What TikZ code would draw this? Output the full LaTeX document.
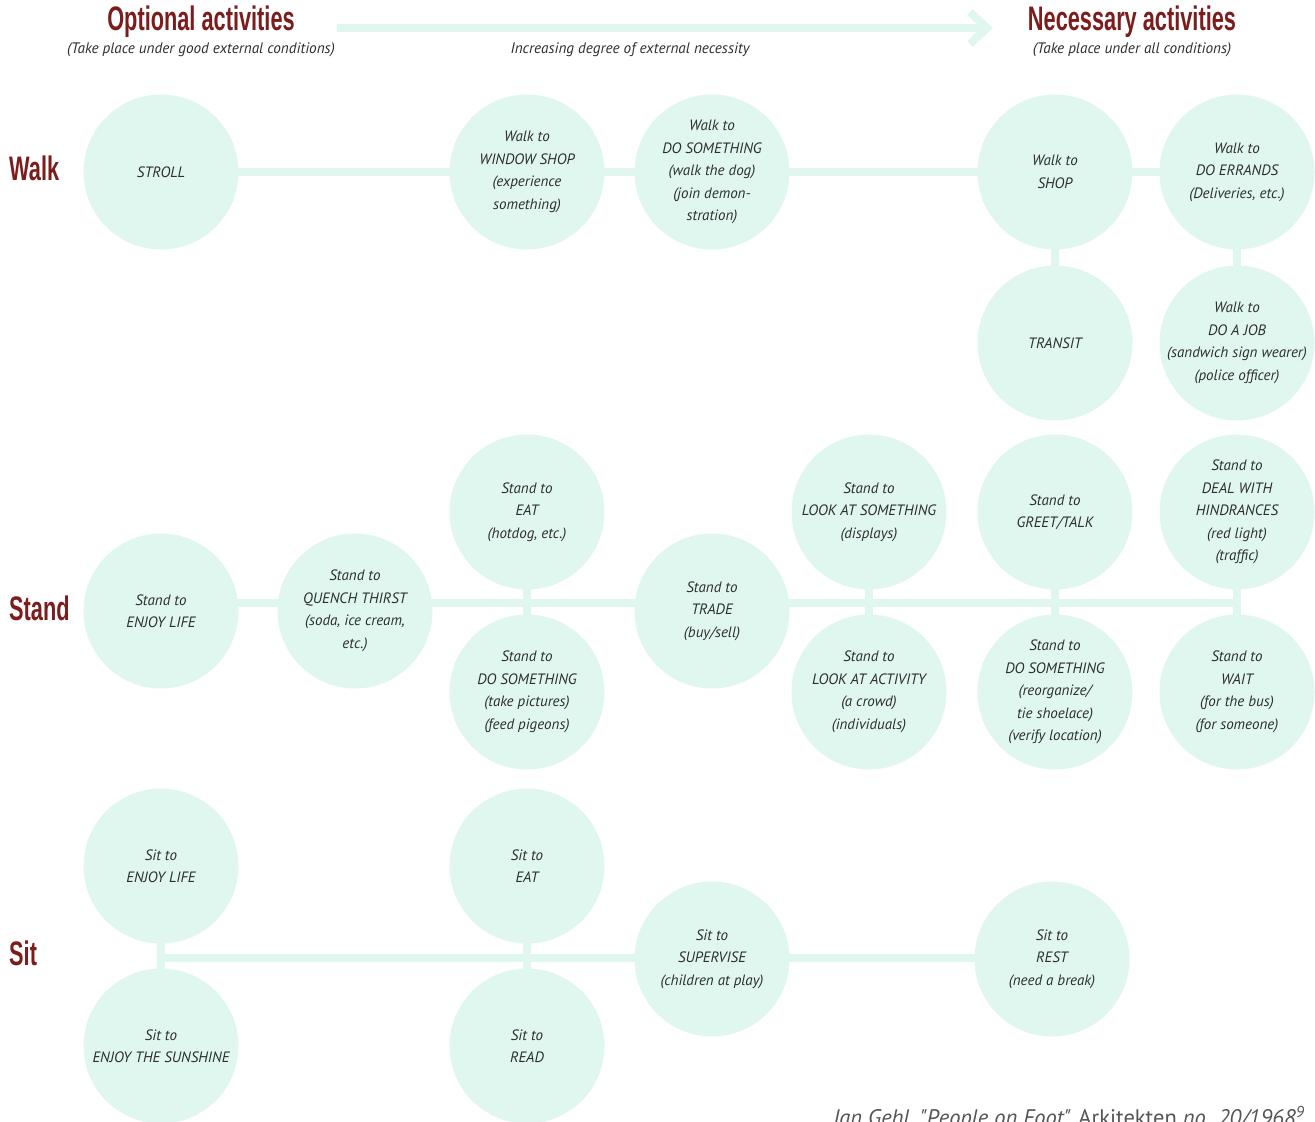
\documentclass[tikz,border=0pt]{standalone}
\usepackage{fontspec}
\setmainfont{PT Sans}
\newfontfamily\headfont[FakeStretch=0.64]{Liberation Sans Bold}
\newfontfamily\bodyfont{PT Sans}
\usetikzlibrary{backgrounds}
\definecolor{mint}{HTML}{E0F7EF}
\definecolor{titlered}{HTML}{7B1D1D}
\definecolor{txtgray}{HTML}{2E2E2E}
\definecolor{citegray}{HTML}{555555}
\tikzset{
  act/.style={circle, fill=mint, minimum size=155pt, inner sep=-40pt, align=center,
    text=txtgray, font=\bodyfont\itshape\fontsize{15}{22.5}\selectfont},
  link/.style={draw=mint, line width=8pt},
  rowlabel/.style={anchor=west, text=titlered, font=\headfont\fontsize{34}{34}\selectfont, inner sep=0},
  headtitle/.style={text=titlered, font=\headfont\fontsize{34}{34}\selectfont, inner sep=0},
  headsub/.style={text=txtgray, font=\bodyfont\itshape\fontsize{15.2}{17}\selectfont, inner sep=0}
}
\begin{document}
\begin{tikzpicture}[x=1pt,y=-1pt]
\useasboundingbox (0,0) rectangle (1315,1122);

% header
\node[headtitle] (opt) at (201,22) {Optional activities};
\node[headsub] (optsub) at (201,50) {(Take place under good external conditions)};
\node[headtitle] (nec) at (1132,22) {Necessary activities};
\node[headsub] (necsub) at (1132,50) {(Take place under all conditions)};
\node[headsub] (incr) at (630,50) {Increasing degree of external necessity};
\coordinate (arrS) at (337,28);
\coordinate (arrE) at (986,28);
\draw[link] (arrS) -- (arrE);
\draw[link, line join=miter] ([shift={(-16,-16)}]arrE) -- ([shift={(1,0)}]arrE) -- ([shift={(-16,16)}]arrE);

% row labels
\node[rowlabel] (lwalk) at (9,168) {Walk};
\node[rowlabel] (lstand) at (9,608) {Stand};
\node[rowlabel] (lsit) at (9,953) {Sit};

% Walk
\node[act] (stroll) at (161,172) {STROLL};
\node[act] (window) at (527,172) {Walk to\\WINDOW SHOP\\(experience\\something)};
\node[act] (wdo) at (712,172) {Walk to\\DO SOMETHING\\(walk the dog)\\(join demon-\\stration)};
\node[act] (shop) at (1055,172) {Walk to\\SHOP};
\node[act] (errands) at (1237,172) {Walk to\\DO ERRANDS\\(Deliveries, etc.)};
\node[act] (transit) at (1055,343) {TRANSIT};
\node[act] (job) at (1237,343) {Walk to\\DO A JOB\\(sandwich sign wearer)\\(police officer)};

% Stand
\node[act] (senjoy) at (161,611) {Stand to\\ENJOY LIFE};
\node[act] (quench) at (355,611) {Stand to\\QUENCH THIRST\\(soda, ice cream,\\etc.)};
\node[act] (seat) at (527,512) {Stand to\\EAT\\(hotdog, etc.)};
\node[act] (sdo) at (527,692) {Stand to\\DO SOMETHING\\(take pictures)\\(feed pigeons)};
\node[act] (trade) at (712,611) {Stand to\\TRADE\\(buy/sell)};
\node[act] (lookthing) at (869,512) {Stand to\\LOOK AT SOMETHING\\(displays)};
\node[act] (lookact) at (869,692) {Stand to\\LOOK AT ACTIVITY\\(a crowd)\\(individuals)};
\node[act] (greet) at (1055,512) {Stand to\\GREET/TALK};
\node[act] (sdo2) at (1055,692) {Stand to\\DO SOMETHING\\(reorganize/\\tie shoelace)\\(verify location)};
\node[act] (deal) at (1237,512) {Stand to\\DEAL WITH\\HINDRANCES\\(red light)\\(traffic)};
\node[act] (wait) at (1237,692) {Stand to\\WAIT\\(for the bus)\\(for someone)};
\coordinate (standL) at (161,603);
\coordinate (standR) at (1239,603);

% Sit
\node[act] (sitenjoy) at (161,866) {Sit to\\ENJOY LIFE};
\node[act] (sun) at (161,1046) {Sit to\\ENJOY THE SUNSHINE};
\node[act] (siteat) at (527,866) {Sit to\\EAT};
\node[act] (read) at (527,1046) {Sit to\\READ};
\node[act] (supervise) at (712,959) {Sit to\\SUPERVISE\\(children at play)};
\node[act] (rest) at (1052,959) {Sit to\\REST\\(need a break)};
\coordinate (sitL) at (161,958);

% citation
\node[anchor=base west, inner sep=0, text=citegray, font=\bodyfont\fontsize{22.5}{26}\selectfont] (cite) at (833,1125)
  {\itshape Jan Gehl, "People on Foot", \upshape Arkitekten \itshape no. 20/1968\textsuperscript{9}};

\begin{pgfonlayer}{background}
\draw[link] (stroll.center) -- (errands.center);
\draw[link] (shop.center) -- (transit.center);
\draw[link] (errands.center) -- (job.center);
\draw[link] (standL) -- (standR);
\draw[link] (seat.center) -- (sdo.center);
\draw[link] (lookthing.center) -- (lookact.center);
\draw[link] (greet.center) -- (sdo2.center);
\draw[link] (deal.center) -- (wait.center);
\draw[link] (sitL) -- (sitL -| rest.center);
\draw[link] (sitenjoy.center) -- (sun.center);
\draw[link] (siteat.center) -- (read.center);
\end{pgfonlayer}
\end{tikzpicture}
\end{document}
